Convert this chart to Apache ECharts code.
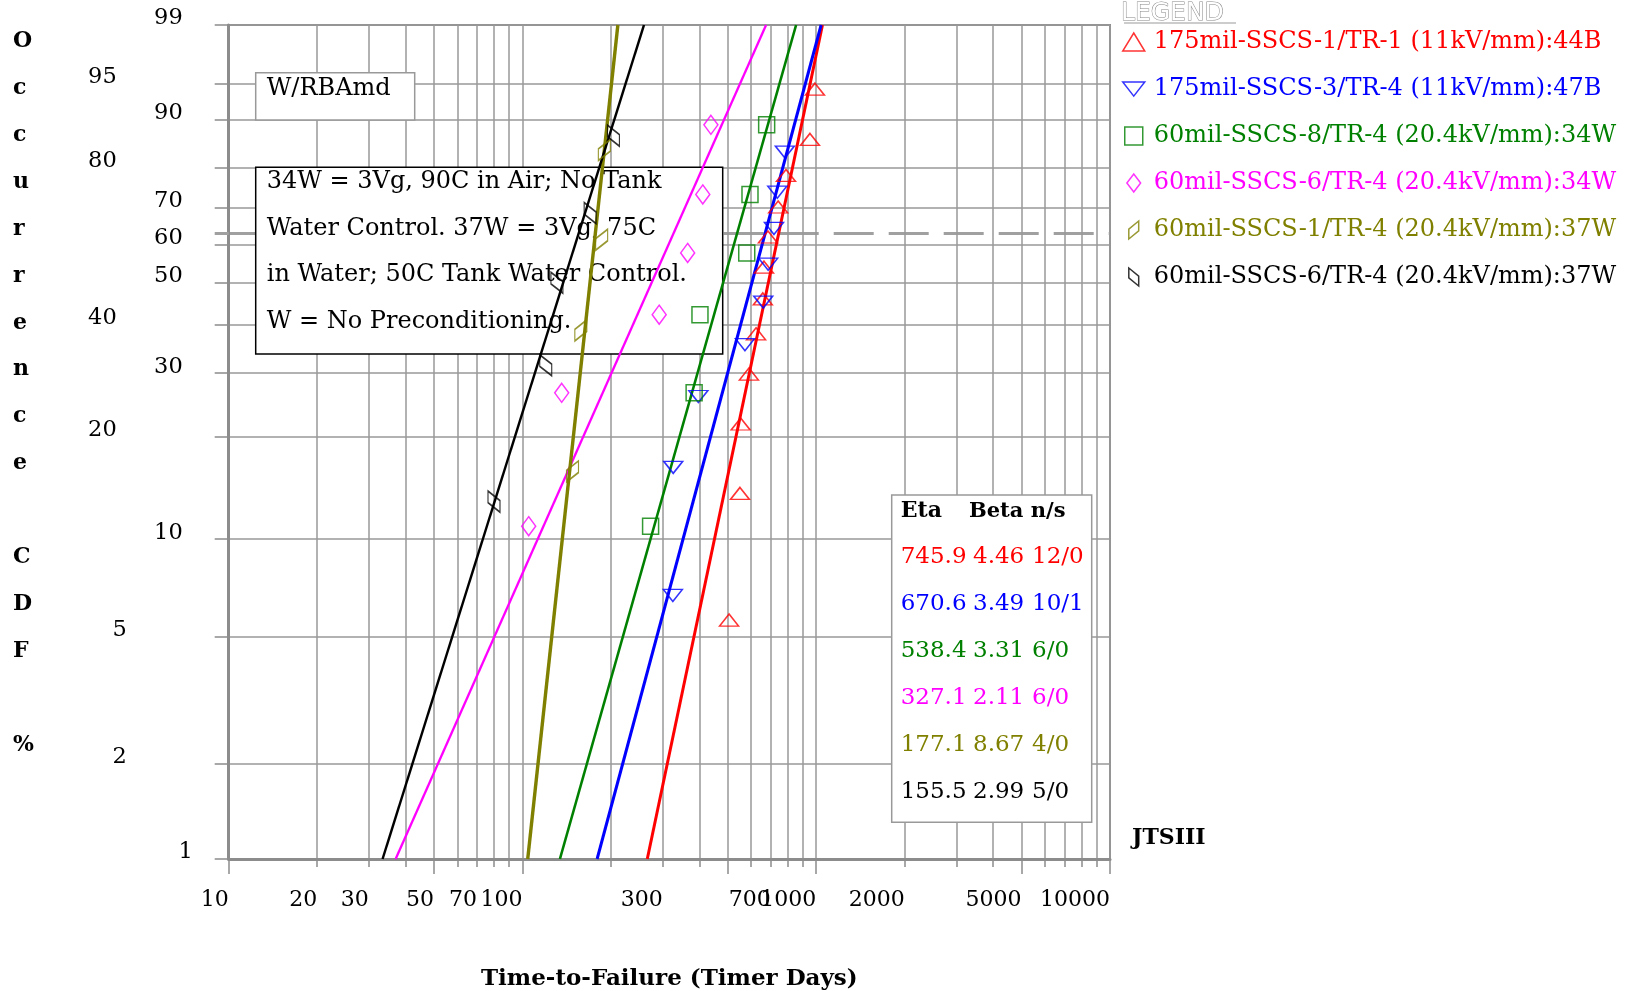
<!DOCTYPE html>
<html><head><meta charset="utf-8">
<script src="https://cdn.jsdelivr.net/npm/echarts@6/dist/echarts.min.js"></script>
<style>html,body{margin:0;padding:0;background:#fff}#c{width:1642px;height:991px}</style>
</head><body><div id="c"></div>
<script>
// ---------- data ----------
const xTickLabels = [10, 20, 30, 50, 70, 100, 300, 700, 1000, 2000, 5000, 10000];
const xGridValues = [10, 20, 30, 40, 50, 60, 70, 80, 90, 100, 200, 300, 400, 500, 600, 700, 800, 900,
  1000, 2000, 3000, 4000, 5000, 6000, 7000, 8000, 9000, 10000];
const xLongTicks = [10, 50, 100, 500, 1000, 5000, 10000];
const yTickLabels = [1, 2, 5, 10, 20, 30, 40, 50, 60, 70, 80, 90, 95, 99];
const yRefLine = [63.2];

const seriesNames = [
  '175mil-SSCS-1/TR-1 (11kV/mm):44B',
  '175mil-SSCS-3/TR-4 (11kV/mm):47B',
  '60mil-SSCS-8/TR-4 (20.4kV/mm):34W',
  '60mil-SSCS-6/TR-4 (20.4kV/mm):34W',
  '60mil-SSCS-1/TR-4 (20.4kV/mm):37W',
  '60mil-SSCS-6/TR-4 (20.4kV/mm):37W'
];

// failure times (timer days) and plotted occurrence CDF (%)
const redTimes = [505, 550, 553, 590, 624, 658, 664, 685, 742, 789, 952, 990];
const redCdf = [5.65, 13.71, 21.77, 29.84, 37.90, 45.97, 54.03, 62.10, 70.16, 78.23, 86.29, 94.35];
const blueTimes = [325, 326, 397, 572, 660, 686, 718, 737, 782];
const blueCdf = [6.73, 16.35, 25.96, 35.58, 45.19, 54.81, 64.42, 74.04, 83.65];
const greenTimes = [273, 384, 402, 580, 595, 678];
const greenCdf = [10.94, 26.56, 42.19, 57.81, 73.44, 89.06];
const magentaTimes = [105, 136, 292, 365, 411, 438];
const magentaCdf = [10.94, 26.56, 42.19, 57.81, 73.44, 89.06];
const oliveTimes = [148, 158, 186, 190];
const oliveCdf = [15.91, 38.64, 61.36, 84.09];
const blackTimes = [80, 120, 131, 170, 204];
const blackCdf = [12.96, 31.48, 50.00, 68.52, 87.04];

// fitted Weibull lines: [time, CDF%] at both ends of the plot
const redFit = [[266, 1], [1050, 99]];
const blueFit = [[179.5, 1], [1039, 99]];
const greenFit = [[134.1, 1], [854, 99]];
const magentaFit = [[37.0, 1], [675, 99]];
const oliveFit = [[104.2, 1], [211.2, 99]];
const blackFit = [[33.4, 1], [259.2, 99]];

// table of fit parameters
const etaValues = ['745.9', '670.6', '538.4', '327.1', '177.1', '155.5'];
const betaValues = ['4.46', '3.49', '3.31', '2.11', '8.67', '2.99'];
const nsValues = ['12/0', '10/1', '6/0', '6/0', '4/0', '5/0'];

const noteLines = [
  '34W = 3Vg, 90C in Air; No Tank',
  'Water Control. 37W = 3Vg, 75C',
  'in Water; 50C Tank Water Control.',
  'W = No Preconditioning.'
];

// ---------- styles ----------
const FONT = '"DejaVu Serif", "Liberation Serif", serif';
const colors = ['#ff0000', '#0000ff', '#008000', '#ff00ff', '#808000', '#000000'];
const symbols = [
  'triangle',
  'path://M0 0L17 0L8.5 11Z',
  'path://M0 0L14 0L14 14L0 14Z',
  'path://M6.5 0L13 8.5L6.5 17L0 8.5Z',
  'path://M0 20L0 9L11 0L11 11Z',
  'path://M0 0L0 11L11 20L11 9Z'
];
const symbolSizes = [[19, 12], [19, 12], [16, 16], [14, 19], [12, 21], [12, 21]];
const lineWidths = [3, 3, 2.6, 2.3, 3.4, 2.5];
const GRID_C = '#999999', AXIS_C = '#8c8c8c';

const groups = [
  [redTimes, redCdf, redFit],
  [blueTimes, blueCdf, blueFit],
  [greenTimes, greenCdf, greenFit],
  [magentaTimes, magentaCdf, magentaFit],
  [oliveTimes, oliveCdf, oliveFit],
  [blackTimes, blackCdf, blackFit]
];

// Weibull probability scale
const wb = p => Math.log(-Math.log(1 - p / 100));
const yMin = wb(1), yMax = wb(99);

const series = [];
groups.forEach(([times, cdf, fit], i) => {
  series.push({
    type: 'line', name: seriesNames[i] + ' fit', xAxisIndex: 0, yAxisIndex: 0,
    data: fit.map(([t, p]) => [t, wb(p)]),
    symbol: 'none', showSymbol: false, silent: true, z: 2,
    lineStyle: { color: colors[i], width: lineWidths[i] }
  });
});
groups.forEach(([times, cdf, fit], i) => {
  series.push({
    type: 'scatter', name: seriesNames[i], xAxisIndex: 0, yAxisIndex: 0,
    data: times.map((t, k) => [t, wb(cdf[k])]),
    symbol: symbols[i], symbolSize: symbolSizes[i], z: 3, silent: true,
    itemStyle: { color: 'rgba(0,0,0,0)', borderColor: colors[i], borderWidth: 1.5 }
  });
});

const yLabelClass = p => ([95, 80, 40, 20].includes(p) ? 'b' : [5, 2].includes(p) ? 'c' : p === 1 ? 'd' : 'a');
const richBase = { fontFamily: FONT, fontSize: 22.5, color: '#000' };

// graphics: annotation boxes, parameter table, small labels
const graphics = [
  { type: 'rect', z: 1, silent: true, shape: { x: 255.7, y: 72.7, width: 159, height: 47.3 },
    style: { fill: '#fff', stroke: GRID_C, lineWidth: 1.5 } },
  { type: 'text', z: 1, silent: true, x: 266.7, y: 89,
    style: { text: 'W/RBAmd', font: '24px ' + FONT, fill: '#000', verticalAlign: 'middle' } },
  { type: 'rect', z: 1, silent: true, shape: { x: 255.7, y: 167.3, width: 467, height: 186.7 },
    style: { fill: '#fff', stroke: '#000', lineWidth: 1.5 } },
  { type: 'text', z: 1, silent: true, x: 266.7, y: 158.3,
    style: { text: noteLines.join('\n'), font: '24px ' + FONT, fill: '#000', lineHeight: 46.7, verticalAlign: 'top' } },
  { type: 'rect', z: 1, silent: true, shape: { x: 891.7, y: 495, width: 200, height: 327.3 },
    style: { fill: '#fff', stroke: GRID_C, lineWidth: 1.5 } },
  { type: 'text', z: 1, silent: true, x: 900.7, y: 511.7,
    style: { text: 'Eta', font: 'bold 22px ' + FONT, fill: '#000', verticalAlign: 'middle' } },
  { type: 'text', z: 1, silent: true, x: 969, y: 511.7,
    style: { text: 'Beta n/s', font: 'bold 21px ' + FONT, fill: '#000', verticalAlign: 'middle' } },
  { type: 'text', z: 1, silent: true, x: 1132, y: 838,
    style: { text: 'JTSIII', font: 'bold 22px ' + FONT, fill: '#000', verticalAlign: 'middle' } },
  { type: 'text', z: 1, silent: true, x: 1121, y: 13,
    style: { text: 'LEGEND', font: '25px "DejaVu Sans", sans-serif', fill: '#fff', stroke: '#888', lineWidth: 1, verticalAlign: 'middle' } },
  { type: 'line', z: 1, silent: true, shape: { x1: 1124, y1: 23, x2: 1236, y2: 23 },
    style: { stroke: '#999', lineWidth: 1.2 } }
];
etaValues.forEach((e, i) => {
  const y = 556.7 + i * 47;
  const f = '23px ' + FONT;
  graphics.push({ type: 'text', z: 1, silent: true, x: 900.7, y, style: { text: e, font: f, fill: colors[i], verticalAlign: 'middle' } });
  graphics.push({ type: 'text', z: 1, silent: true, x: 973, y, style: { text: betaValues[i], font: f, fill: colors[i], verticalAlign: 'middle' } });
  graphics.push({ type: 'text', z: 1, silent: true, x: 1032, y, style: { text: nsValues[i], font: f, fill: colors[i], verticalAlign: 'middle' } });
});

const option = {
  animation: false,
  backgroundColor: '#fff',
  title: {
    text: 'O\nc\nc\nu\nr\nr\ne\nn\nc\ne\n \nC\nD\nF\n \n%',
    left: 13, top: 18, padding: 0,
    textStyle: { fontFamily: FONT, fontSize: 22, fontWeight: 'bold', color: '#000', lineHeight: 46.9 }
  },
  grid: {
    left: 228.7, top: 25, width: 881.3, height: 834,
    show: true, borderColor: AXIS_C, borderWidth: 2, backgroundColor: 'transparent',
    containLabel: false, outerBoundsMode: 'none'
  },
  legend: {
    orient: 'vertical', left: 1117, top: 23, selectedMode: false,
    itemWidth: 22, itemHeight: 18, itemGap: 19,
    textStyle: { fontFamily: FONT, fontSize: 24, lineHeight: 28, padding: [0, 0, 0, 4] },
    data: seriesNames.map((n, i) => ({
      name: n,
      icon: symbols[i],
      itemStyle: { color: 'rgba(0,0,0,0)', borderColor: colors[i], borderWidth: 1.5 },
      textStyle: { color: colors[i] }
    }))
  },
  xAxis: [
    {
      type: 'log', logBase: 10, min: 10, max: 10000, position: 'bottom',
      name: 'Time-to-Failure (Timer Days)', nameLocation: 'middle', nameGap: 109,
      nameTextStyle: { fontFamily: FONT, fontSize: 23, fontWeight: 'bold', color: '#000' },
      axisLine: { show: true, onZero: false, lineStyle: { color: AXIS_C, width: 3 } },
      axisTick: { show: true, customValues: xGridValues, length: 8, lineStyle: { color: AXIS_C, width: 1.5 } },
      axisLabel: {
        customValues: xTickLabels, margin: 30, align: 'right', hideOverlap: false,
        formatter: v => String(Math.round(v)),
        fontFamily: FONT, fontSize: 22, color: '#000'
      },
      splitLine: { show: true, lineStyle: { color: GRID_C, width: 1.5 } },
      minorTick: { show: false }, minorSplitLine: { show: false }
    },
    {
      type: 'log', logBase: 10, min: 10, max: 10000, position: 'bottom',
      axisLine: { show: false, onZero: false },
      axisTick: { show: true, customValues: xLongTicks, length: 15, lineStyle: { color: AXIS_C, width: 1.5 } },
      axisLabel: { show: false },
      splitLine: { show: false },
      minorTick: { show: false }, minorSplitLine: { show: false }
    }
  ],
  yAxis: [
    {
      type: 'value', min: yMin, max: yMax, position: 'left',
      axisLine: { show: true, onZero: false, lineStyle: { color: AXIS_C, width: 3 } },
      axisTick: { show: true, customValues: yTickLabels.map(wb), length: 14, lineStyle: { color: AXIS_C, width: 1.5 } },
      axisLabel: {
        customValues: yTickLabels.map(wb), margin: 36, hideOverlap: false,
        formatter: v => {
          const p = Math.round(100 * (1 - Math.exp(-Math.exp(v))));
          return '{' + yLabelClass(p) + '|' + p + '}';
        },
        fontFamily: FONT, fontSize: 22.5, color: '#000',
        rich: {
          a: Object.assign({ padding: [0, 10, 13, 0] }, richBase),
          b: Object.assign({ padding: [0, 76, 13, 0] }, richBase),
          c: Object.assign({ padding: [0, 66, 13, 0] }, richBase),
          d: Object.assign({ padding: [0, 0, 13, 0] }, richBase)
        }
      },
      splitLine: { show: true, lineStyle: { color: GRID_C, width: 1.5 } }
    },
    {
      type: 'value', min: yMin, max: yMax, position: 'left',
      axisLine: { show: false, onZero: false },
      axisTick: { show: true, customValues: yRefLine.map(wb), length: 14, lineStyle: { color: '#a0a0a0', width: 3 } },
      axisLabel: { show: false },
      splitLine: { show: true, lineStyle: { color: '#a0a0a0', width: 3, type: [40, 15] } }
    }
  ],
  graphic: graphics,
  series
};

const chart = echarts.init(document.getElementById('c'), null, { renderer: 'canvas' });
chart.setOption(option);
</script>
</body></html>
